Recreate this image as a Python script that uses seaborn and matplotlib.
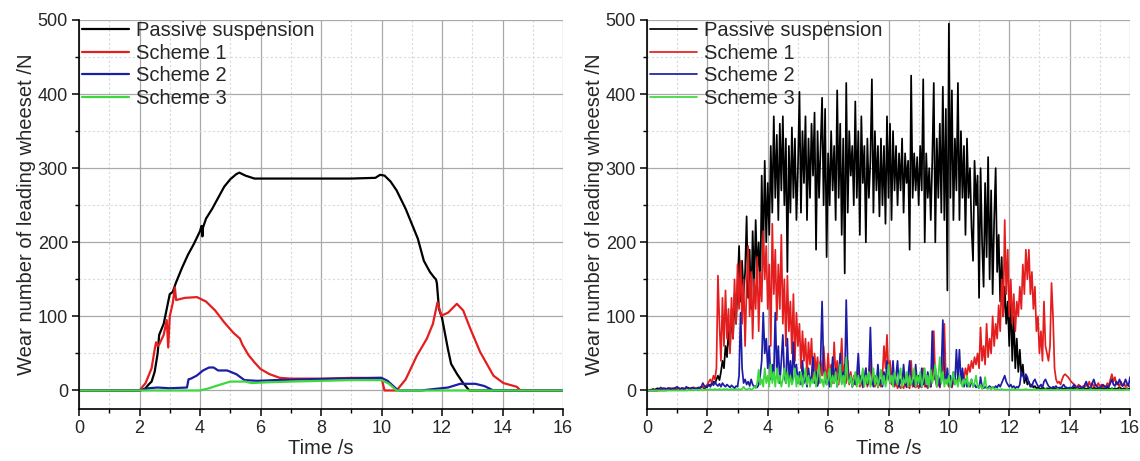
import numpy as np
import pandas as pd
import matplotlib
matplotlib.use("Agg")
import matplotlib.pyplot as plt
import seaborn as sns
from matplotlib.ticker import MultipleLocator

# ---------------- data ----------------
series_names = ["Passive suspension", "Scheme 1", "Scheme 2", "Scheme 3"]
series_colors = ["#000000", "#e41e1e", "#1c1ca6", "#3cd83c"]

x_ticks = [0, 2, 4, 6, 8, 10, 12, 14, 16]
y_ticks = [0, 100, 200, 300, 400, 500]
x_label = "Time /s"
y_label = "Wear number of leading wheeset /N"

# Left panel (smooth curves): time points and values
t_passive_l = [0, 2.0, 2.1, 2.2, 2.3, 2.4, 2.5, 2.6, 2.65, 2.7, 2.8, 2.9, 3.0, 3.1, 3.2, 3.4, 3.6, 3.8,
               4.0, 4.05, 4.08, 4.1, 4.2, 4.4, 4.6, 4.8, 5.0, 5.2, 5.3, 5.5, 5.8, 6.0, 7.0, 8.0, 9.0,
               9.8, 9.95, 10.1, 10.3, 10.5, 10.8, 11.0, 11.2, 11.4, 11.6, 11.75, 11.8, 11.83, 11.9,
               12.0, 12.2, 12.3, 12.5, 12.7, 12.9, 14.0, 16.0]
v_passive_l = [0, 0, 1, 3, 8, 12, 25, 50, 75, 80, 90, 110, 130, 133, 145, 165, 183, 198,
               215, 222, 208, 220, 232, 245, 260, 275, 285, 292, 294, 290, 286, 286, 286, 286, 286,
               287, 291, 290, 282, 270, 245, 225, 205, 175, 160, 152, 150, 145, 110,
               98, 55, 36, 22, 10, 0, 0, 0]

t_s1_l = [0, 2.0, 2.2, 2.4, 2.5, 2.55, 2.6, 2.65, 2.8, 2.9, 2.95, 3.0, 3.1, 3.17, 3.21, 3.3, 3.5,
          3.9, 4.2, 4.5, 4.8, 5.1, 5.32, 5.4, 5.6, 5.8, 6.0, 6.3, 6.64, 7.0, 8.0, 9.0, 10.0, 10.1,
          10.5, 10.8, 11.17, 11.5, 11.7, 11.85, 11.98, 12.2, 12.49, 12.7, 12.93, 13.26, 13.7, 14.03,
          14.47, 14.6, 16.0]
v_s1_l = [0, 0, 10, 30, 55, 65, 60, 62, 75, 95, 58, 100, 118, 139, 122, 123, 125,
          126, 120, 108, 92, 78, 70, 62, 48, 38, 29, 22, 17, 16, 16, 17, 17, 0,
          0, 15, 47, 70, 90, 119, 101, 105, 117, 108, 84, 52, 20, 10,
          5, 0, 0]

t_s2_l = [0, 2.0, 2.3, 2.6, 3.0, 3.57, 3.62, 3.7, 3.89, 4.1, 4.3, 4.45, 4.6, 4.9, 5.2, 5.47, 5.9,
          6.5, 7.5, 8.6, 10.0, 10.2, 10.55, 11.3, 12.2, 12.6, 13.1, 13.4, 13.7, 16.0]
v_s2_l = [0, 0, 3, 4, 3, 4, 15, 16, 20, 27, 31, 31, 27, 27, 22, 14, 13,
          14, 15, 16, 17, 13, 0, 0, 4, 9, 9, 6, 0, 0]

t_s3_l = [0, 4.0, 4.3, 4.6, 5.0, 5.5, 5.7, 6.2, 7.0, 8.0, 9.0, 10.0, 10.25, 10.5, 16.0]
v_s3_l = [0, 0, 3, 7, 12, 12, 10, 11, 12, 13, 14, 14, 9, 0, 0]

# Right panel (noisy signals): values every 0.05 s from 0 s to 16 s (one row = one second)
right_step = 0.05
v_passive_r = [
    0, 0, 1, 1, 2, 1, 2, 3, 2, 1, 2, 3, 2, 2, 3, 2, 1, 2, 3, 2,
    2, 3, 2, 3, 2, 2, 3, 4, 3, 2, 3, 4, 3, 2, 3, 4, 5, 4, 3, 4,
    5, 8, 6, 10, 12, 9, 15, 20, 14, 25, 40, 30, 60, 45, 80, 55, 110, 70, 130, 90,
    140, 195, 120, 175, 130, 160, 235, 125, 190, 110, 215, 140, 230, 160, 200, 130, 290, 180, 310, 200,
    280, 210, 330, 240, 370, 260, 345, 230, 360, 270, 370, 250, 340, 160, 330, 240, 355, 260, 340, 230,
    300, 403, 240, 350, 280, 370, 230, 340, 260, 360, 290, 375, 190, 350, 260, 330, 395, 250, 380, 180,
    320, 250, 350, 270, 330, 230, 405, 260, 360, 210, 340, 158, 415, 240, 350, 290, 330, 250, 390, 260,
    350, 210, 370, 280, 330, 200, 340, 260, 310, 420, 240, 350, 270, 330, 235, 340, 250, 330, 225, 370,
    260, 360, 230, 350, 270, 330, 250, 320, 270, 340, 240, 320, 280, 310, 190, 425, 260, 320, 270, 315,
    250, 330, 270, 420, 200, 320, 260, 300, 230, 310, 415, 200, 340, 260, 360, 240, 410, 230, 380, 135,
    495, 260, 405, 230, 340, 270, 415, 230, 350, 260, 330, 210, 340, 260, 300, 220, 175, 310, 250, 290,
    125, 300, 200, 140, 280, 180, 315, 150, 270, 130, 230, 300, 160, 210, 120, 180, 100, 140, 90, 120,
    60, 125, 40, 100, 30, 70, 25, 55, 20, 35, 10, 20, 8, 12, 5, 8, 4, 6, 3, 4,
    3, 2, 4, 3, 2, 3, 2, 4, 3, 2, 3, 2, 3, 2, 4, 3, 2, 3, 2, 3,
    2, 3, 2, 4, 3, 2, 3, 2, 3, 4, 3, 2, 3, 2, 3, 2, 4, 3, 2, 3,
    2, 3, 2, 3, 2, 4, 3, 2, 3, 2, 3, 2, 3, 4, 3, 2, 3, 2, 3, 2,
    3]
v_s1_r = [
    0, 0, 0, 0, 0, 0, 0, 0, 0, 0, 0, 0, 0, 0, 2, 3, 3, 2, 3, 3,
    2, 3, 2, 3, 3, 2, 3, 3, 2, 3, 3, 4, 3, 3, 4, 3, 4, 5, 4, 6,
    8, 12, 15, 10, 20, 15, 30, 155, 90, 40, 125, 60, 135, 70, 110, 50, 125, 70, 150, 90,
    170, 110, 175, 90, 150, 60, 140, 195, 100, 160, 70, 150, 110, 180, 80, 160, 120, 215, 150, 195,
    110, 170, 60, 225, 130, 190, 95, 170, 110, 210, 90, 150, 60, 155, 80, 120, 50, 130, 40, 105,
    60, 90, 30, 80, 40, 70, 20, 65, 35, 70, 15, 50, 25, 45, 10, 40, 20, 60, 30, 15,
    50, 15, 35, 10, 65, 20, 40, 8, 30, 70, 15, 35, 10, 40, 8, 25, 5, 20, 8, 15,
    30, 5, 15, 4, 10, 30, 5, 12, 45, 8, 20, 5, 15, 4, 10, 5, 20, 60, 30, 75,
    20, 40, 8, 15, 5, 10, 3, 8, 3, 6, 3, 10, 4, 6, 3, 40, 5, 10, 4, 8,
    3, 10, 4, 30, 5, 8, 3, 10, 5, 20, 80, 15, 5, 10, 4, 15, 30, 90, 15, 10,
    5, 10, 4, 12, 8, 15, 10, 20, 12, 25, 15, 30, 20, 35, 25, 40, 30, 45, 35, 50,
    30, 85, 40, 60, 35, 90, 45, 70, 50, 100, 60, 90, 70, 115, 80, 150, 100, 230, 130, 190,
    100, 150, 90, 130, 80, 120, 100, 140, 110, 170, 130, 190, 150, 190, 130, 160, 110, 140, 80, 100,
    50, 80, 40, 120, 60, 50, 40, 60, 145, 100, 30, 15, 10, 12, 8, 15, 20, 22, 20, 18,
    15, 12, 10, 8, 6, 5, 8, 5, 4, 6, 5, 8, 5, 12, 6, 10, 5, 8, 6, 10,
    5, 8, 4, 6, 5, 10, 6, 15, 22, 12, 18, 8, 10, 5, 12, 6, 10, 5, 8, 6,
    5]
v_s2_r = [
    0, 0, 0, 0, 0, 0, 0, 0, 2, 4, 3, 2, 3, 2, 3, 3, 2, 3, 2, 4,
    5, 3, 2, 3, 3, 2, 5, 3, 2, 3, 4, 3, 2, 3, 4, 3, 5, 10, 6, 5,
    6, 8, 5, 10, 7, 12, 8, 6, 9, 5, 10, 7, 5, 8, 6, 4, 7, 5, 3, 6,
    5, 20, 105, 30, 10, 15, 8, 12, 6, 15, 8, 5, 6, 4, 8, 20, 40, 105, 50, 70,
    30, 60, 15, 35, 20, 105, 25, 60, 10, 40, 75, 20, 10, 70, 15, 40, 10, 65, 20, 35,
    10, 25, 8, 40, 10, 20, 5, 30, 8, 20, 45, 10, 25, 6, 15, 40, 120, 30, 15, 8,
    20, 5, 15, 45, 10, 30, 5, 20, 50, 10, 25, 8, 122, 30, 10, 20, 5, 15, 8, 20,
    50, 10, 20, 5, 15, 30, 8, 20, 85, 15, 5, 20, 10, 35, 8, 15, 5, 25, 10, 40,
    20, 10, 15, 40, 8, 20, 40, 5, 15, 8, 35, 10, 5, 20, 40, 8, 15, 5, 35, 10,
    20, 5, 30, 8, 15, 5, 25, 10, 5, 80, 15, 30, 8, 20, 5, 25, 95, 20, 10, 30,
    8, 20, 5, 25, 10, 55, 15, 55, 10, 30, 5, 15, 5, 10, 5, 15, 5, 8, 4, 6,
    3, 18, 5, 3, 5, 3, 4, 6, 3, 5, 3, 6, 4, 8, 5, 10, 15, 20, 12, 8,
    5, 8, 4, 6, 3, 5, 4, 8, 25, 20, 15, 22, 18, 10, 8, 5, 12, 15, 10, 6,
    5, 8, 4, 12, 15, 10, 6, 4, 3, 5, 4, 6, 3, 4, 3, 5, 8, 5, 4, 3,
    4, 3, 5, 8, 4, 3, 5, 6, 4, 3, 8, 12, 6, 4, 3, 10, 15, 8, 5, 4,
    3, 5, 8, 6, 4, 6, 5, 10, 15, 8, 6, 12, 8, 15, 10, 6, 8, 15, 10, 6,
    18]
v_s3_r = [
    0, 0, 0, 0, 0, 0, 0, 0, 0, 0, 0, 0, 0, 0, 0, 0, 0, 0, 0, 0,
    0, 0, 0, 0, 0, 0, 0, 0, 1, 0, 1, 0, 1, 1, 0, 1, 1, 0, 1, 1,
    1, 1, 2, 1, 1, 2, 1, 1, 2, 1, 1, 2, 1, 2, 1, 1, 2, 1, 1, 2,
    1, 2, 1, 2, 5, 2, 1, 2, 3, 1, 2, 5, 3, 10, 28, 8, 15, 5, 30, 10,
    20, 5, 35, 10, 25, 5, 30, 10, 20, 5, 15, 30, 10, 25, 5, 20, 8, 15, 30, 5,
    20, 8, 25, 5, 15, 30, 8, 20, 5, 15, 10, 25, 5, 20, 35, 10, 15, 5, 25, 8,
    15, 30, 5, 20, 10, 25, 5, 15, 35, 8, 20, 5, 45, 15, 10, 20, 5, 15, 25, 5,
    20, 8, 15, 30, 5, 20, 10, 25, 5, 15, 30, 8, 20, 5, 15, 28, 8, 20, 5, 15,
    35, 10, 20, 5, 25, 15, 8, 20, 30, 5, 15, 10, 25, 5, 20, 8, 15, 30, 5, 20,
    10, 25, 5, 15, 30, 8, 20, 5, 28, 10, 20, 35, 5, 20, 45, 10, 25, 5, 15, 8,
    20, 5, 15, 25, 8, 15, 5, 20, 10, 5, 15, 8, 20, 5, 10, 15, 5, 10, 20, 5,
    3, 8, 2, 5, 18, 3, 2, 4, 1, 5, 2, 1, 2, 1, 1, 2, 1, 1, 1, 1,
    1, 1, 2, 1, 1, 1, 2, 1, 1, 1, 1, 2, 1, 1, 1, 1, 1, 2, 1, 1,
    1, 1, 1, 1, 2, 1, 1, 1, 1, 1, 1, 1, 2, 1, 1, 1, 1, 1, 1, 1,
    1, 1, 1, 1, 1, 2, 1, 1, 1, 1, 1, 1, 1, 1, 2, 1, 1, 1, 1, 1,
    1, 1, 1, 1, 1, 1, 1, 1, 2, 1, 1, 1, 1, 1, 1, 1, 1, 1, 2, 1,
    1]

# ---------------- figure ----------------
sns.set_theme(style="white")
plt.rcParams["font.family"] = ["Liberation Sans", "DejaVu Sans"]
plt.rcParams["axes.unicode_minus"] = False

W, H = 1140, 461
fig = plt.figure(figsize=(W / 100, H / 100), dpi=100)
ax_top, ax_bot = 20, 409
ax1 = fig.add_axes([79 / W, 1 - ax_bot / H, (563 - 79) / W, (ax_bot - ax_top) / H])
ax2 = fig.add_axes([647 / W, 1 - ax_bot / H, (1130 - 647) / W, (ax_bot - ax_top) / H])


def to_frame(t, v):
    return pd.DataFrame({"t": np.asarray(t, float), "v": np.asarray(v, float)})


left_sets = [(t_passive_l, v_passive_l), (t_s1_l, v_s1_l), (t_s2_l, v_s2_l), (t_s3_l, v_s3_l)]
right_vals = [v_passive_r, v_s1_r, v_s2_r, v_s3_r]
right_sets = [(np.arange(len(v)) * right_step, v) for v in right_vals]

for ax, sets, lw in [(ax1, left_sets, 1.6), (ax2, right_sets, 1.25)]:
    for (t, v), name, col in zip(sets, series_names, series_colors):
        sns.lineplot(data=to_frame(t, v), x="t", y="v", ax=ax, color=col, lw=lw,
                     label=name, estimator=None, sort=False)

    ax.set_xlim(0, 16)
    ax.set_ylim(-25, 500)
    ax.set_xticks(x_ticks)
    ax.set_yticks(y_ticks)
    ax.xaxis.set_minor_locator(MultipleLocator(1))
    ax.yaxis.set_minor_locator(MultipleLocator(50))
    ax.set_axisbelow(True)
    ax.grid(which="major", color="#a9a9a9", lw=0.9, ls="-")
    ax.grid(which="minor", color="#d9d9d9", lw=0.8, ls=(0, (2, 2)))
    for s in ["top", "right"]:
        ax.spines[s].set_visible(False)
    for s in ["left", "bottom"]:
        ax.spines[s].set_color("black")
        ax.spines[s].set_linewidth(1.2)
    ax.tick_params(which="major", direction="out", length=5, width=1.1, color="black",
                   labelsize=13, pad=3, left=True, bottom=True)
    ax.tick_params(which="minor", direction="out", length=3, width=1.0, color="black",
                   left=True, bottom=True)
    ax.set_xlabel(x_label, fontsize=14.5, labelpad=1)
    ax.set_ylabel(y_label, fontsize=14.5, labelpad=1)
    ax.legend(loc="upper left", bbox_to_anchor=(0.005, 1.0), frameon=False, fontsize=14.5,
              handlelength=2.3, handletextpad=0.35, labelspacing=0.18, borderaxespad=0.0,
              borderpad=0.05)

fig.savefig("out.png", dpi=100)
